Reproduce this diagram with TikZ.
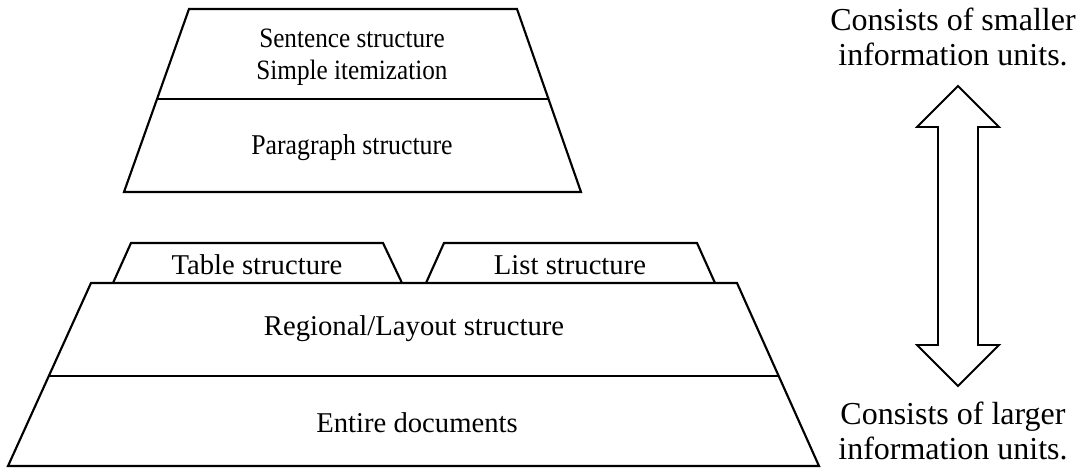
\documentclass[tikz,border=0pt]{standalone}
\usepackage{fontspec}
\setmainfont{Liberation Serif}
\newfontfamily\narrowserif[FakeStretch=0.9]{Liberation Serif}
\usetikzlibrary{calc}

\begin{document}
\begin{tikzpicture}[x=0.75pt, y=-0.75pt, line join=miter,
  layer/.style={draw=black, line width=1.6pt},
  label/.style={font=\fontsize{21.5}{26}\selectfont, align=center, inner sep=0pt},
  toplabel/.style={label, font=\narrowserif\fontsize{21}{24}\selectfont},
  sidelabel/.style={label, font=\fontsize{24}{26}\selectfont}]

\useasboundingbox (0,0) rectangle (1077,468);

% upper block
\coordinate (ut1) at (189,9);
\coordinate (ut2) at (517,9);
\coordinate (ub2) at (581,192);
\coordinate (ub1) at (124,192);
\draw[layer] (ut1) -- (ut2) -- (ub2) -- (ub1) -- cycle;
\draw[layer] ($(ut1)!0.492!(ub1)$) -- ($(ut2)!0.492!(ub2)$);

\node[toplabel] (sentence) at (352,57) {Sentence structure\\Simple itemization};
\node[toplabel, font=\narrowserif\fontsize{21.5}{24}\selectfont] (paragraph) at (352,148) {Paragraph structure};

% lower block
\coordinate (lt1) at (91,283);
\coordinate (lt2) at (737,283);
\coordinate (lb2) at (819,466);
\coordinate (lb1) at (8,466);
\draw[layer] (lt1) -- (lt2) -- (lb2) -- (lb1) -- cycle;
\draw[layer] ($(lt1)!0.508!(lb1)$) -- ($(lt2)!0.508!(lb2)$);

\draw[layer] (113,283) -- (131,243) -- (383,243) -- (402,283);
\draw[layer] (426,283) -- (444,243) -- (697,243) -- (715,283);

\node[label] (table) at (257,265) {Table structure};
\node[label] (list) at (570,265) {List structure};
\node[label] (regional) at (414,329) {Regional/Layout structure};
\node[label] (entire) at (417,423) {Entire documents};

% scale arrow
\draw[layer, line width=1.4pt] (958,86) -- (999,127) -- (978,127) -- (978,345) -- (999,345)
  -- (958,386) -- (917,345) -- (938,345) -- (938,127) -- (917,127) -- cycle;

\node[sidelabel] (smaller) at (953,37) {Consists of smaller\\information units.};
\node[sidelabel] (larger) at (953,431) {Consists of larger\\information units.};

\end{tikzpicture}
\end{document}
